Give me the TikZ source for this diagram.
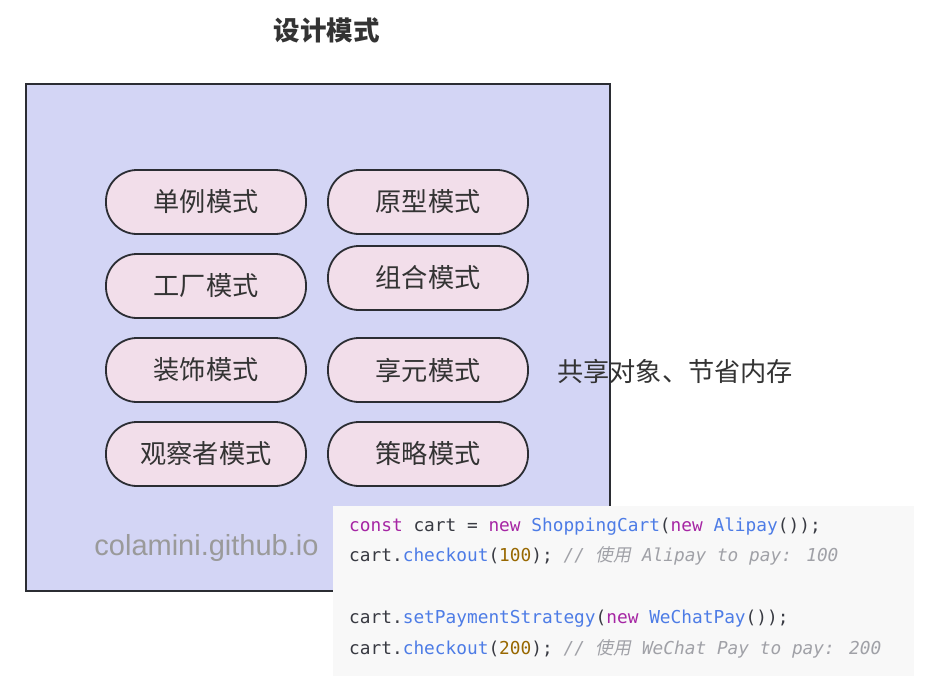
\documentclass[tikz,border=0pt]{standalone}
\usepackage{fontspec}
\newfontfamily\cjk{Noto Sans CJK SC}
\newfontfamily\cjkit[FakeSlant=0.2]{Noto Sans CJK SC}
\newfontfamily\codefont{DejaVu Sans Mono}
\newfontfamily\wmfont{Liberation Sans}
\definecolor{boxfill}{HTML}{D3D5F5}
\definecolor{edge}{HTML}{2B2D33}
\definecolor{pillfill}{HTML}{F2DEEA}
\definecolor{txt}{HTML}{333333}
\definecolor{codebg}{HTML}{F8F8F8}
\definecolor{kw}{HTML}{A626A4}
\definecolor{fn}{HTML}{4D7CE6}
\definecolor{num}{HTML}{986801}
\definecolor{cm}{HTML}{A0A1A7}
\definecolor{pl}{HTML}{383A42}
\definecolor{wm}{HTML}{9A9A9A}
\newcommand{\K}[1]{\textcolor{kw}{#1}}
\newcommand{\F}[1]{\textcolor{fn}{#1}}
\newcommand{\N}[1]{\textcolor{num}{#1}}
\newcommand{\C}[1]{\textcolor{cm}{\itshape #1}}
\tikzset{
  pill/.style={draw=edge, line width=1.8pt, fill=pillfill, rounded corners=31pt,
    minimum width=200pt, minimum height=64pt, inner sep=0pt,
    font=\cjk\fontsize{26.2}{30}\selectfont, text=txt},
  codeline/.style={anchor=base west, inner sep=0pt, font=\codefont\fontsize{17.8}{20}\selectfont, text=pl},
}
\begin{document}
\begin{tikzpicture}[x=1pt,y=-1pt]
\useasboundingbox (0,0) rectangle (934,694);
\node[font=\cjk\bfseries\fontsize{26.5}{30}\selectfont, text=txt] (title) at (326.5,30) {设计模式};
\node[draw=edge, line width=1.8pt, fill=boxfill, minimum width=584pt, minimum height=507pt, inner sep=0pt] (frame) at (318,337.5) {};
\node[pill] (p1) at (206,202) {单例模式};
\node[pill] (p2) at (428,202) {原型模式};
\node[pill] (p3) at (206,286) {工厂模式};
\node[pill] (p4) at (428,278) {组合模式};
\node[pill] (p5) at (206,370) {装饰模式};
\node[pill] (p6) at (428,370) {享元模式};
\node[pill] (p7) at (206,454) {观察者模式};
\node[pill] (p8) at (428,454) {策略模式};
\node[anchor=west, inner sep=0pt, font=\cjk\fontsize{26.2}{30}\selectfont, text=txt] (note) at (557,371) {共享对象、节省内存};
\node[inner sep=0pt, font=\wmfont\fontsize{29}{30}\selectfont, text=wm] (wm) at (206.5,548) {colamini.github.io};
\node[fill=codebg, minimum width=581pt, minimum height=170pt, inner sep=0pt] (code) at (623.5,591) {};
\node[codeline] (l1) at (349,531) {\K{const} cart = \K{new} \F{ShoppingCart}(\K{new} \F{Alipay}());};
\node[codeline] (l2) at (349,561) {cart.\F{checkout}(\N{100}); \C{// {\cjkit 使用} Alipay to pay: 100}};
\node[codeline] (l3) at (349,623) {cart.\F{setPaymentStrategy}(\K{new} \F{WeChatPay}());};
\node[codeline] (l4) at (349,654) {cart.\F{checkout}(\N{200}); \C{// {\cjkit 使用} WeChat Pay to pay: 200}};
\end{tikzpicture}
\end{document}
